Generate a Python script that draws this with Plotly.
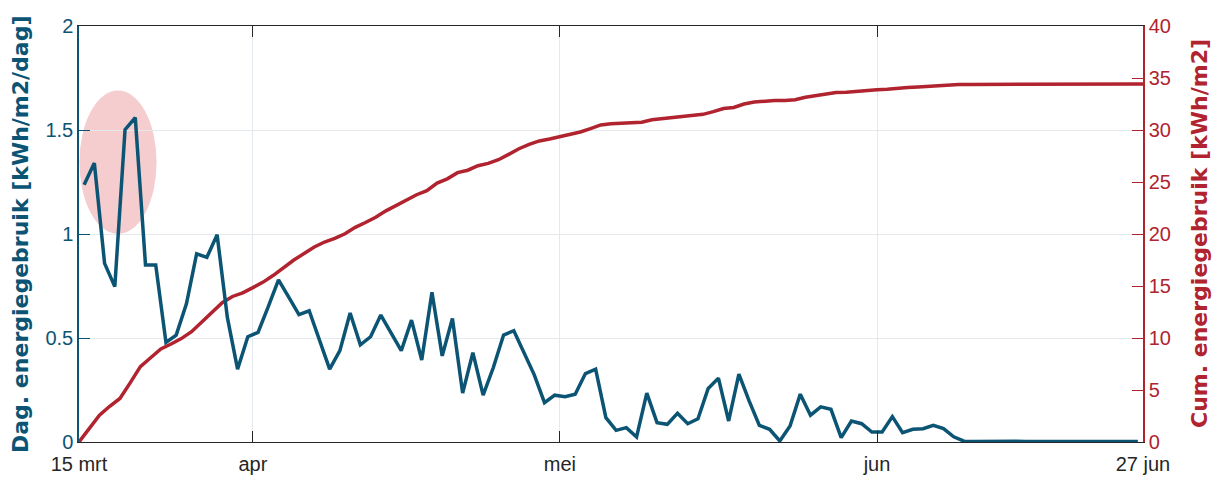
import datetime as dt
import numpy as np
import plotly.graph_objects as go

# Daily energy use per m2, one value per day starting 15 March
start = dt.datetime(2023, 3, 15)
daily_use = [
    1.237, 1.341, 0.859, 0.747, 1.502, 1.560, 0.851, 0.851, 0.479, 0.514,
    0.664, 0.905, 0.888, 0.996, 0.599, 0.350, 0.506, 0.527, 0.651, 0.779,
    0.696, 0.612, 0.631, 0.487, 0.350, 0.439, 0.620, 0.467, 0.506, 0.610,
    0.527, 0.439, 0.586, 0.394, 0.720, 0.414, 0.594, 0.235, 0.430, 0.225,
    0.358, 0.514, 0.535, 0.430, 0.323, 0.189, 0.225, 0.218, 0.230, 0.329,
    0.350, 0.117, 0.056, 0.069, 0.024, 0.235, 0.093, 0.085, 0.138, 0.088,
    0.112, 0.257, 0.307, 0.101, 0.326, 0.198, 0.080, 0.061, 0.005, 0.077,
    0.230, 0.129, 0.169, 0.157, 0.021, 0.101, 0.088, 0.048, 0.048, 0.122,
    0.045, 0.061, 0.064, 0.080, 0.064, 0.025, 0.004, 0.003, 0.004, 0.003,
    0.003, 0.004, 0.003, 0.003, 0.004, 0.003, 0.003, 0.004, 0.003, 0.003,
    0.004, 0.003, 0.004, 0.003,
]

tick_dates = ["2023-03-15", "2023-04-01", "2023-05-01", "2023-06-01", "2023-06-27"]
tick_labels = ["15 mrt", "apr", "mei", "jun", "27 jun"]

left_ticks = [0, 0.5, 1, 1.5, 2]
right_ticks = [0, 5, 10, 15, 20, 25, 30, 35, 40]

BLUE = "#0b5474"
RED = "#b0232f"
DARK = "#262626"
GRID = "#e4e9ee"

# daily points sit at midday, the running total is taken at each midnight
day_x = [start + dt.timedelta(days=i, hours=12) for i in range(len(daily_use))]
cum_x = [start + dt.timedelta(days=i) for i in range(len(daily_use) + 1)]
cum_y = np.concatenate([[0.0], np.cumsum(daily_use)])

fig = go.Figure()
fig.add_trace(go.Scatter(x=cum_x, y=cum_y, mode="lines", yaxis="y",
                         line=dict(color=RED, width=3.5), showlegend=False))
fig.add_trace(go.Scatter(x=day_x, y=daily_use, mode="lines", yaxis="y2",
                         line=dict(color=BLUE, width=3.5), showlegend=False))

# highlight of the first week's peaks
fig.add_shape(type="circle", xref="x", yref="y2",
              x0=start + dt.timedelta(hours=1), x1=start + dt.timedelta(days=7, hours=14),
              y0=1.0, y1=1.69, fillcolor="#d8363f", opacity=0.25,
              line=dict(width=0), layer="below")

tick_font = dict(family="Liberation Sans, Arial, sans-serif", size=20)

fig.update_layout(
    width=1216, height=477,
    margin=dict(l=79, r=73, t=26, b=35),
    plot_bgcolor="white", paper_bgcolor="white",
    xaxis=dict(
        range=[start, dt.datetime(2023, 6, 27)], automargin=False,
        tickvals=tick_dates, ticktext=tick_labels,
        ticks="inside", ticklen=11, tickcolor=DARK, tickwidth=1,
        showline=True, linecolor=DARK, linewidth=1.3, mirror="ticks",
        showgrid=True, gridcolor=GRID, gridwidth=1,
        ticklabelstandoff=4,
        tickfont=dict(color=DARK, **tick_font),
    ),
    yaxis=dict(
        side="right", range=[0, 40], tickvals=right_ticks, automargin=False,
        ticks="inside", ticklen=11, tickcolor=RED, tickwidth=1.3,
        showline=True, linecolor=RED, linewidth=1.5,
        showgrid=False, zeroline=False,
        tickfont=dict(color=RED, **tick_font),
    ),
    yaxis2=dict(
        side="left", overlaying="y", range=[0, 2], tickvals=left_ticks, automargin=False,
        ticks="inside", ticklen=11, tickcolor=BLUE, tickwidth=1.3,
        showline=True, linecolor=BLUE, linewidth=1.5,
        showgrid=True, gridcolor=GRID, gridwidth=1, zeroline=False,
        tickfont=dict(color=BLUE, **tick_font),
    ),
)

title_font = "DejaVu Sans, Verdana, sans-serif"
fig.add_annotation(text="<b>Dag. energiegebruik [kWh/m2/dag]</b>", xref="paper", yref="paper",
                   x=0, y=0.5, xanchor="center", yanchor="middle", xshift=-59,
                   textangle=-90, showarrow=False,
                   font=dict(family=title_font, size=22, color=BLUE))
fig.add_annotation(text="<b>Cum. energiegebruik [kWh/m2]</b>", xref="paper", yref="paper",
                   x=1, y=0.5, xanchor="center", yanchor="middle", xshift=56,
                   textangle=-90, showarrow=False,
                   font=dict(family=title_font, size=22, color=RED))

fig.write_html("out.html")
